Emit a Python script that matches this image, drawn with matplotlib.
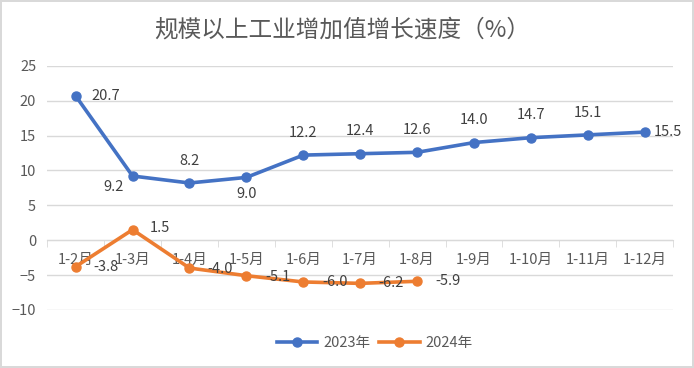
import numpy as np
import matplotlib.pyplot as plt

plt.rcParams['font.family'] = ['Noto Sans CJK SC', 'DejaVu Sans']

months = ['1-2月', '1-3月', '1-4月', '1-5月', '1-6月', '1-7月', '1-8月',
          '1-9月', '1-10月', '1-11月', '1-12月']
growth_2023 = [20.7, 9.2, 8.2, 9.0, 12.2, 12.4, 12.6, 14.0, 14.7, 15.1, 15.5]
growth_2024 = [-3.8, 1.5, -4.0, -5.1, -6.0, -6.2, -5.9]

# label offsets (points) for each data label
off_2023 = [(22, 0), (-14, -8), (0, 16), (0, -12), (0, 16), (0, 16), (0, 16),
            (0, 16), (0, 16), (0, 16), (17, 0)]
off_2024 = [(22, 0), (20, 1), (22, -1), (23, -1), (23, 0), (22, 0), (22, 0)]

blue = '#4472C4'
orange = '#ED7D31'
grey = '#595959'

fig = plt.figure(figsize=(6.94, 3.68), dpi=100, edgecolor='#d9d9d9', linewidth=1.5)
ax = fig.add_axes([0.068, 0.158, 0.902, 0.663])

x = np.arange(len(months))
ax.plot(x, growth_2023, '-o', color=blue, lw=2.6, ms=6.5, label='2023年', zorder=3)
ax.plot(x[:len(growth_2024)], growth_2024, '-o', color=orange, lw=2.6, ms=6.5,
        label='2024年', zorder=3)

for xi, v, o in zip(x, growth_2023, off_2023):
    ax.annotate(f'{v:.1f}', (xi, v), xytext=o, textcoords='offset points',
                ha='center', va='center', fontsize=10.5, color='#404040')
for xi, v, o in zip(x, growth_2024, off_2024):
    ax.annotate(f'{v:.1f}', (xi, v), xytext=o, textcoords='offset points',
                ha='center', va='center', fontsize=10.5, color='#404040')

ax.set_xlim(-0.5, len(months) - 0.5)
ax.set_ylim(-10, 25)
ax.set_yticks(np.arange(-10, 26, 5))
ax.grid(axis='y', color='#d9d9d9', lw=1)
ax.set_axisbelow(True)

for s in ['left', 'right', 'top']:
    ax.spines[s].set_visible(False)
ax.spines['bottom'].set_position(('data', 0))
ax.spines['bottom'].set_color('#d9d9d9')

ax.set_xticks(x)
ax.set_xticklabels(months)
ax.set_xticks(np.arange(-0.5, len(months), 1), minor=True)
ax.tick_params(axis='x', which='major', length=0, pad=9, labelsize=10.5, labelcolor=grey)
ax.tick_params(axis='x', which='minor', length=5, color='#d9d9d9')
ax.tick_params(axis='y', length=0, labelsize=10.5, labelcolor=grey, pad=8)

fig.suptitle('规模以上工业增加值增长速度（%）', x=0.493, y=0.918, va='center',
             fontsize=17, color=grey)
fig.legend(loc='center', bbox_to_anchor=(0.54, 0.068), ncol=2, frameon=False,
           fontsize=10.5, labelcolor=grey, handlelength=2.8, columnspacing=0.6,
           handletextpad=0.4)

fig.savefig('out.png', dpi=100)
